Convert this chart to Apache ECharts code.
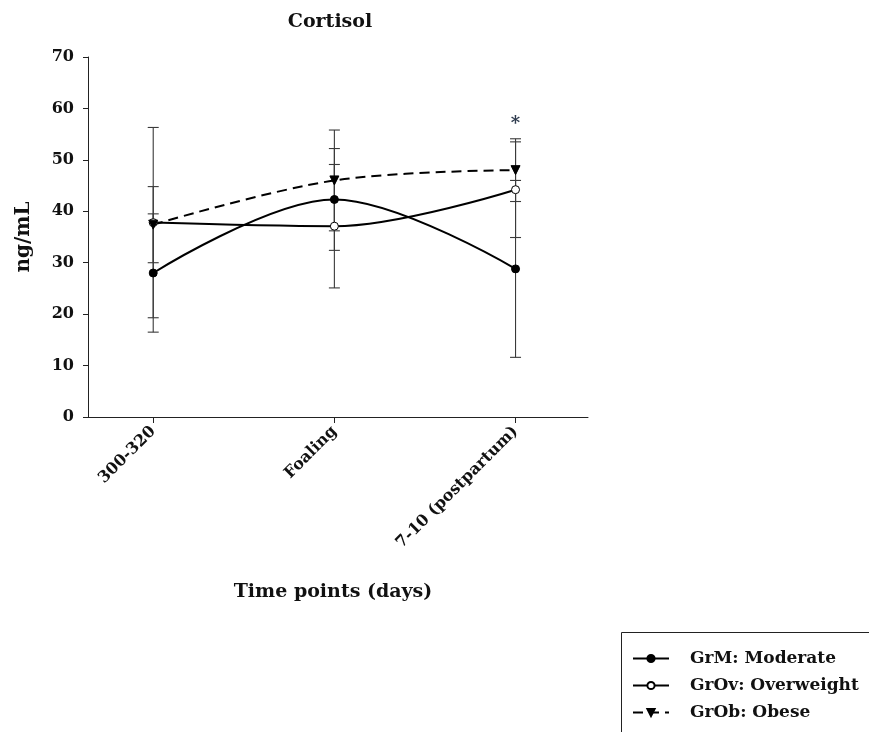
<!DOCTYPE html>
<html>
<head>
<meta charset="utf-8">
<script src="https://cdn.jsdelivr.net/npm/echarts@6/dist/echarts.min.js"></script>
<style>html,body{margin:0;padding:0;background:#fff}#c{width:869px;height:732px}</style>
</head>
<body>
<div id="c"></div>
<script>
var categories = ['300-320', 'Foaling', '7-10 (postpartum)'];
var seriesNames = ['GrM: Moderate', 'GrOv: Overweight', 'GrOb: Obese'];
var grM = [28.0, 42.3, 28.8];
var grMErr = [11.5, 9.9, 17.2];
var grOv = [37.8, 37.1, 44.2];
var grOvErr = [18.5, 12.0, 9.3];
var grOb = [37.4, 46.0, 48.0];
var grObErr = [7.4, 9.8, 6.1];
var yTicks = [0, 10, 20, 30, 40, 50, 60, 70];
var star = { index: 2, value: 56.9, text: '*' };

var FONT = '"DejaVu Serif", serif';

function pts(vals) { return vals.map(function (v, i) { return [i, v]; }); }
function errData(vals, errs) { return vals.map(function (v, i) { return [i, v - errs[i], v + errs[i]]; }); }

function errSeries(vals, errs) {
  return {
    type: 'custom',
    silent: true,
    z: 1,
    data: errData(vals, errs),
    renderItem: function (params, api) {
      var x = api.value(0);
      var lo = api.coord([x, api.value(1)]);
      var hi = api.coord([x, api.value(2)]);
      var w = 5.5;
      var st = { stroke: '#3a3a3a', lineWidth: 1.1 };
      return {
        type: 'group',
        children: [
          { type: 'line', shape: { x1: lo[0], y1: lo[1], x2: hi[0], y2: hi[1] }, style: st },
          { type: 'line', shape: { x1: lo[0] - w, y1: lo[1], x2: lo[0] + w, y2: lo[1] }, style: st },
          { type: 'line', shape: { x1: hi[0] - w, y1: hi[1], x2: hi[0] + w, y2: hi[1] }, style: st }
        ]
      };
    }
  };
}

var chart = echarts.init(document.getElementById('c'), null, { renderer: 'canvas' });
chart.setOption({
  animation: false,
  backgroundColor: '#fff',
  title: {
    text: 'Cortisol',
    left: 325, top: 8,
    textAlign: 'center',
    textStyle: { fontFamily: FONT, fontWeight: 'bold', fontSize: 19, color: '#111' }
  },
  graphic: [{
    type: 'rect', left: 619, top: 630, silent: true,
    shape: { width: 300, height: 200 },
    style: { fill: 'none', stroke: '#222', lineWidth: 1 }
  }],
  grid: { left: 88, right: 281, top: 57, bottom: 315, containLabel: false },
  xAxis: {
    type: 'value',
    min: -0.36, max: 2.4,
    splitLine: { show: false },
    axisLine: { show: true, onZero: false, lineStyle: { color: '#222', width: 1 } },
    axisTick: { show: true, length: 6, customValues: [0, 1, 2], lineStyle: { color: '#222' } },
    axisLabel: {
      customValues: [0, 1, 2],
      rotate: 45, margin: 12,
      fontFamily: FONT, fontWeight: 'bold', fontSize: 16, color: '#111',
      formatter: function (v) { return categories[Math.round(v)] || ''; }
    },
    name: 'Time points (days)',
    nameLocation: 'middle',
    nameGap: 166,
    nameTextStyle: { fontFamily: FONT, fontWeight: 'bold', fontSize: 19, color: '#111', padding: [0, 10, 0, 0] }
  },
  yAxis: {
    type: 'value',
    min: 0, max: 70, interval: 10,
    splitLine: { show: false },
    axisLine: { show: true, onZero: false, lineStyle: { color: '#222', width: 1 } },
    axisTick: { show: true, length: 5, lineStyle: { color: '#222' } },
    axisLabel: {
      margin: 14,
      fontFamily: FONT, fontWeight: 'bold', fontSize: 16, color: '#111',
      formatter: function (v) { return yTicks.indexOf(v) >= 0 ? String(v) : ''; }
    },
    name: 'ng/mL',
    nameLocation: 'middle',
    nameGap: 54,
    nameRotate: 90,
    nameTextStyle: { fontFamily: FONT, fontWeight: 'bold', fontSize: 20, color: '#111' }
  },
  legend: {
    left: 620, top: 631,
    orient: 'vertical',
    data: seriesNames,
    itemWidth: 36, itemHeight: 9, itemGap: 10,
    padding: [19, 5, 5, 12],
    textStyle: { fontFamily: FONT, fontWeight: 'bold', fontSize: 17, color: '#111', padding: [0, 0, 0, 16], lineHeight: 17 }
  },
  series: [
    errSeries(grM, grMErr),
    errSeries(grOv, grOvErr),
    errSeries(grOb, grObErr),
    {
      name: seriesNames[0], type: 'line', z: 3,
      data: pts(grM), smooth: 0.35,
      symbol: 'circle', symbolSize: 8,
      itemStyle: { color: '#000', borderColor: '#000', borderWidth: 1 },
      lineStyle: { color: '#000', width: 2 }
    },
    {
      name: seriesNames[1], type: 'line', z: 3,
      data: pts(grOv), smooth: 0.35,
      symbol: 'circle', symbolSize: 8,
      itemStyle: { color: '#fff', borderColor: '#000', borderWidth: 1 },
      lineStyle: { color: '#000', width: 2 }
    },
    {
      name: seriesNames[2], type: 'line', z: 3,
      data: pts(grOb), smooth: 0.35,
      symbol: 'triangle', symbolRotate: 180, symbolSize: 9,
      itemStyle: { color: '#000', borderColor: '#000', borderWidth: 1 },
      lineStyle: { color: '#000', width: 2, type: [10, 6] },
      markPoint: {
        symbol: 'circle', symbolSize: 0,
        data: [{ coord: [star.index, star.value], value: star.text }],
        label: { show: true, position: 'inside', formatter: star.text, fontFamily: FONT, fontWeight: 'bold', fontSize: 18, color: '#2e3b4e' }
      }
    }
  ]
});
</script>
</body>
</html>
